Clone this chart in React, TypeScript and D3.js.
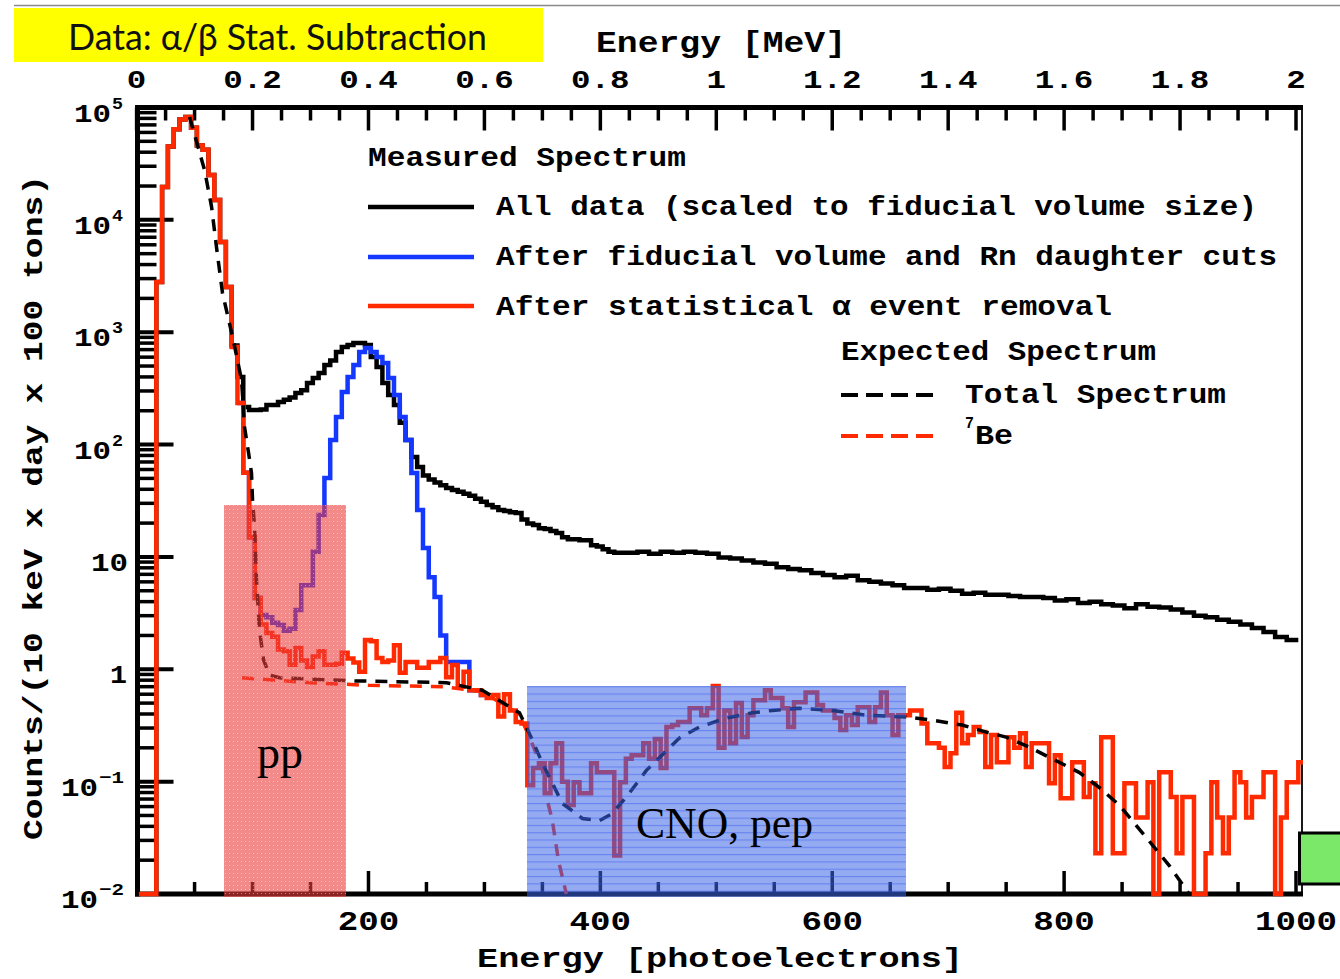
import React from "react";
import * as d3 from "d3";

// ---------------- data ----------------
// histogram bin width (photoelectrons)
const binWidth = 5;

// After statistical alpha event removal (red), 5 pe bins starting at redStartPe
const redStartPe = 2;
const redValues = [
  0.005, 0.005, 0.005,
  2800, 19600, 45000, 64000, 78000, 82300, 66000, 46000, 42000, 25100, // 17..62
  15000, 6350, 2520, 739, 234, 56, 15, 4.3, 2.5, 2.1, // 67..112
  1.95, 1.5, 1.45, 1.1, 1.55, 1.2, 1.05, 1.3, 1.45, 1.1, // 117..162
  1.1, 1.12, 1.4, 1.25, 1.15, 0.95, 1.82, 1.78, 1.26, 1.16, // 167..212
  1.2, 1.64, 0.93, 1.16, 1.16, 1.03, 1.03, 1.16, 1.16, 1.26, // 217..262
  0.85, 1.09, 0.7, 0.95, 0.65, 0.65, 0.59, 0.555, 0.59, 0.38, // 267..312
  0.6, 0.43, 0.34, 0.33, 0.093, 0.132, 0.146, 0.079, 0.146, 0.22, // 317..362
  0.1, 0.062, 0.099, 0.079, 0.079, 0.146, 0.121, 0.121, 0.121, 0.022, // 367..412
  0.099, 0.16, 0.172, 0.172, 0.22, 0.16, 0.24, 0.132, 0.306, 0.32, // 417..462
  0.34, 0.34, 0.45, 0.45, 0.39, 0.45, 0.71, 0.2, 0.43, 0.22, // 467..512
  0.5, 0.25, 0.39, 0.53, 0.53, 0.65, 0.555, 0.555, 0.45, 0.306, // 517..562
  0.51, 0.51, 0.62, 0.62, 0.48, 0.43, 0.43, 0.368, 0.288, 0.39, // 567..612
  0.32, 0.46, 0.46, 0.34, 0.46, 0.62, 0.39, 0.26, 0.39, 0.39, // 617..662
  0.43, 0.43, 0.33, 0.22, 0.22, 0.2, 0.135, 0.179, 0.41, 0.22, // 667..712
  0.26, 0.306, 0.276, 0.135, 0.26, 0.149, 0.149, 0.249, 0.2, 0.27, // 717..762
  0.135, 0.22, 0.22, 0.22, 0.097, 0.172, 0.071, 0.071, 0.149, 0.149, // 767..812
  0.073, 0.097, 0.023, 0.249, 0.249, 0.023, 0.023, 0.097, 0.097, 0.048, // 817..862
  0.048, 0.099, 0.005, 0.121, 0.121, 0.073, 0.023, 0.073, 0.073, 0.005, // 867..912
  0.005, 0.023, 0.099, 0.048, 0.023, 0.048, 0.121, 0.099, 0.048, 0.073, // 917..962
  0.073, 0.121, 0.121, 0.005, 0.048, 0.099, 0.099, 0.149, // 967..1002
];

// All data (black): 5 pe bins from 17 to 411, then 10 pe bins from 412
const blackFineStartPe = 17;
const blackFineValues = [
  2800, 19600, 45000, 64000, 78000, 82300, 66000, 46000, 42000, 25100, // 17..62
  15000, 6350, 2520, 760, 399, 216, 203, 203, 205, 225, // 67..112
  225, 239, 250, 262, 288, 305, 353, 391, 434, 511, // 117..162
  560, 667, 739, 769, 802, 802, 769, 601, 490, 353, // 167..212
  276, 225, 156, 110, 77.5, 63, 53, 49, 46, 43.5, // 217..262
  41, 39.4, 38, 36.5, 35, 33, 31, 29, 27.7, 26.1, // 267..312
  25.6, 25, 24.6, 21.5, 19.8, 19.2, 18, 17.7, 17, 16.3, // 317..362
  15, 14.4, 14.4, 14.1, 14.1, 12.7, 12.4, 11.7, 11.1, // 367..407
];
const blackCoarseStartPe = 412;
const blackCoarseWidth = 10;
const blackCoarseValues = [
  10.9, 10.9, 11.1, 10.7, 11.1, 10.9, 11.1, 10.9, 10.7, 9.9, // 412..502
  9.7, 9.3, 8.9, 8.7, 8.1, 7.8, 7.6, 7.2, 6.9, 6.6, // 512..602
  6.8, 6.2, 6.0, 5.8, 5.6, 5.3, 5.3, 5.1, 5.2, 5.0, // 612..702
  4.7, 4.8, 4.6, 4.6, 4.5, 4.4, 4.4, 4.3, 4.1, 4.2, // 712..802
  3.9, 4.0, 3.8, 3.7, 3.5, 3.8, 3.6, 3.55, 3.4, 3.2, // 812..902
  3.0, 2.9, 2.76, 2.65, 2.5, 2.33, 2.15, 1.94, 1.82, // 912..992
];

// After fiducial volume and Rn daughter cuts (blue), 5 pe bins
const blueStartPe = 87;
const blueValues = [
  234, 56, 15, 4.3, 3.04, 2.9, 2.6, 2.48, 2.2, 2.3, // 87..132
  3.37, 5.6, 5.6, 11.1, 23.6, 50.4, 110, 176, 294, 399, // 137..182
  511, 667, 724, 667, 601, 532, 391, 276, 176, 110, // 187..232
  55.8, 26.1, 12, 6.6, 4.4, 2.0, 1.16, 1.16, 1.16, 1.16, // 237..282
  0.65, 0.65, 0.59, // 287..297
];

// Expected total spectrum (black dashed)
const totalPe = [45.7, 58.6, 64.7, 69, 74.1, 83.6, 90.5, 93.1, 96.6, 99.1, 100, 101.7, 103.4, 104.3, 106, 109.5, 114.7, 123.3, 183.6, 267.2, 298.3, 330.2, 341.4, 350, 367.2, 384.5, 399.1, 410.3, 425, 439.7, 468.1, 485.3, 508.6, 531, 548.3, 571.6, 600, 629.3, 663.8, 686.2, 712, 732.8, 750, 769.8, 812.9, 830.2, 847.4, 870.7, 890.5, 907.8];
const totalValues = [82300, 27800, 13000, 5620, 2230, 835, 376, 143, 84, 55.8, 32.1, 18.5, 6.2, 4.4, 2.24, 1.21, 0.89, 0.84, 0.79, 0.76, 0.65, 0.41, 0.234, 0.146, 0.064, 0.047, 0.045, 0.052, 0.079, 0.126, 0.244, 0.306, 0.368, 0.41, 0.43, 0.45, 0.43, 0.39, 0.376, 0.353, 0.319, 0.276, 0.249, 0.203, 0.121, 0.089, 0.062, 0.032, 0.018, 0.0088];

// Expected 7Be spectrum (red dashed)
const be7Pe = [91, 150, 200, 265, 298, 330, 341, 350, 352.6, 358.6, 363.8, 370.7];
const be7Values = [0.84, 0.76, 0.72, 0.7, 0.63, 0.4, 0.22, 0.13, 0.08, 0.045, 0.02, 0.01];

// axes
const mevMajorTicks = [0, 0.2, 0.4, 0.6, 0.8, 1, 1.2, 1.4, 1.6, 1.8, 2];
const mevTickLabels = ["0", "0.2", "0.4", "0.6", "0.8", "1", "1.2", "1.4", "1.6", "1.8", "2"];
const peMajorTicks = [200, 400, 600, 800, 1000];
const peTickLabels = ["200", "400", "600", "800", "1000"];
const decadeExponents = [-2, -1, 0, 1, 2, 3, 4, 5];

const legendMeasuredTitle = "Measured Spectrum";
const legendMeasuredLabels = [
  "All data (scaled to fiducial volume size)",
  "After fiducial volume and Rn daughter cuts",
  "After statistical α event removal",
];
const legendExpectedTitle = "Expected Spectrum";
const legendExpectedLabels = ["Total Spectrum", "Be"];

// ---------------- drawing ----------------
const MONO = "'Liberation Mono', 'DejaVu Sans Mono', monospace";
const SERIF = "'Liberation Serif', 'DejaVu Serif', serif";
const RED = "#ff2a00";
const BLUE = "#1438ff";

const x = d3.scaleLinear().domain([0, 1000]).range([136.6, 1296]);
const mev = d3.scaleLinear().domain([0, 2]).range([136.6, 1296]);
const y = d3.scaleLog().domain([0.01, 1e5]).range([894, 107.5]).clamp(true);

type Bin = { a: number; b: number; v: number };
function makeBins(start: number, width: number, values: number[]): Bin[] {
  return values.map((v, i) => ({ a: start + i * width, b: start + (i + 1) * width, v }));
}
function stepPath(bins: Bin[], fromBottom: boolean): string {
  const y0 = fromBottom ? y.range()[0] : y(bins[0].v);
  let d = `M${x(bins[0].a)},${y0}`;
  bins.forEach((bn) => {
    d += `V${y(bn.v)}H${x(bn.b)}`;
  });
  return d;
}

const redBins = makeBins(redStartPe, binWidth, redValues);
const blackBins = [
  ...makeBins(blackFineStartPe, binWidth, blackFineValues),
  ...makeBins(blackCoarseStartPe, blackCoarseWidth, blackCoarseValues),
];
const blueBins = makeBins(blueStartPe, binWidth, blueValues);

const curve = d3
  .line<[number, number]>()
  .x((d) => x(d[0]))
  .y((d) => y(d[1]));
const totalPath = curve(totalPe.map((p, i) => [p, totalValues[i]] as [number, number])) || "";
const be7Path = curve(be7Pe.map((p, i) => [p, be7Values[i]] as [number, number])) || "";

const mevMinor = d3.range(0, 2.0001, 0.05).filter((v) => Math.abs(v / 0.2 - Math.round(v / 0.2)) > 1e-6);
const peMinor = d3.range(50, 1001, 50).filter((v) => v % 200 !== 0);
const logMinor: number[] = [];
decadeExponents.slice(0, -1).forEach((e) => {
  for (let k = 2; k <= 9; k++) logMinor.push(k * Math.pow(10, e));
});

const AXL = 137.5; // left axis x
const AXR = 1302; // right axis x
const AXT = 107.5;
const AXB = 894;

function YLabel({ e }: { e: number }) {
  const ty = y(Math.pow(10, e)) + 14;
  if (e === 0)
    return (
      <text x={127} y={ty} textAnchor="end" fontFamily={MONO} fontWeight="bold" fontSize={26} textLength={17} lengthAdjust="spacingAndGlyphs">
        1
      </text>
    );
  if (e === 1)
    return (
      <text x={128} y={ty} textAnchor="end" fontFamily={MONO} fontWeight="bold" fontSize={26} textLength={37} lengthAdjust="spacingAndGlyphs">
        10
      </text>
    );
  const neg = e < 0;
  const baseEnd = neg ? 98 : 111;
  const sup = neg ? `−${-e}` : `${e}`;
  return (
    <g>
      <text x={baseEnd} y={ty} textAnchor="end" fontFamily={MONO} fontWeight="bold" fontSize={26} textLength={37} lengthAdjust="spacingAndGlyphs">
        10
      </text>
      <text x={baseEnd + 1} y={ty - 13} fontFamily={MONO} fontWeight="bold" fontSize={17} textLength={neg ? 25 : 11} lengthAdjust="spacingAndGlyphs">
        {sup}
      </text>
    </g>
  );
}

export default function App() {
  return (
    <svg width={1340} height={979} style={{ position: "absolute", left: 0, top: 0, background: "#fff" }}>
      <defs>
        <clipPath id="plotClip">
          <rect x={134} y={100} width={AXR - 134 + 1} height={AXB - 100 + 3} />
        </clipPath>
        <pattern id="hlines" width={10} height={7.3} patternUnits="userSpaceOnUse">
          <line x1={0} x2={10} y1={0.6} y2={0.6} stroke="#2f55f0" strokeWidth={1} opacity={0.5} />
        </pattern>
        <pattern id="dots" width={4} height={4} patternUnits="userSpaceOnUse">
          <rect x={1} y={1} width={1} height={1} fill="#fff" opacity={0.45} />
        </pattern>
      </defs>

      {/* slide border line */}
      <line x1={14} x2={1340} y1={5.5} y2={5.5} stroke="#8a8a8a" strokeWidth={1.5} />

      {/* title box */}
      <rect x={14} y={8} width={529} height={54} fill="#ffff00" />
      <text x={68} y={50} fontFamily="Lato, 'Open Sans', sans-serif" fontSize={37} textLength={419} lengthAdjust="spacingAndGlyphs" fill="#111">
        Data: α/β Stat. Subtraction
      </text>

      {/* top axis title and labels */}
      <text x={596} y={52} fontFamily={MONO} fontWeight="bold" fontSize={30} textLength={250} lengthAdjust="spacingAndGlyphs">
        Energy [MeV]
      </text>
      {mevMajorTicks.map((t, i) => (
        <text key={"ml" + i} x={mev(t)} y={88} textAnchor="middle" fontFamily={MONO} fontWeight="bold" fontSize={26} textLength={mevTickLabels[i].length * 19.5} lengthAdjust="spacingAndGlyphs">
          {mevTickLabels[i]}
        </text>
      ))}

      {/* axes frame */}
      <line x1={AXR} x2={AXR} y1={AXT} y2={AXB} stroke="#000" strokeWidth={1.8} />
      <line x1={AXL - 2.5} x2={AXR + 1} y1={AXT} y2={AXT} stroke="#000" strokeWidth={5} />
      <line x1={AXL - 2.5} x2={AXR + 1} y1={AXB} y2={AXB} stroke="#000" strokeWidth={5} />
      <line x1={AXL} x2={AXL} y1={AXT - 2.5} y2={AXB + 2.5} stroke="#000" strokeWidth={5} />

      {/* top ticks */}
      {mevMajorTicks.map((t, i) => (
        <line key={"mt" + i} x1={mev(t)} x2={mev(t)} y1={AXT} y2={AXT + 23} stroke="#000" strokeWidth={3.5} />
      ))}
      {mevMinor.map((t, i) => (
        <line key={"mm" + i} x1={mev(t)} x2={mev(t)} y1={AXT} y2={AXT + 13} stroke="#000" strokeWidth={3.5} />
      ))}
      {/* bottom ticks */}
      {peMajorTicks.map((t, i) => (
        <line key={"pt" + i} x1={x(t)} x2={x(t)} y1={AXB} y2={AXB - 23} stroke="#000" strokeWidth={3.5} />
      ))}
      {peMinor.map((t, i) => (
        <line key={"pm" + i} x1={x(t)} x2={x(t)} y1={AXB} y2={AXB - 12} stroke="#000" strokeWidth={3.5} />
      ))}
      {/* left ticks */}
      {decadeExponents.map((e) => (
        <line key={"dt" + e} x1={AXL} x2={AXL + 36} y1={y(Math.pow(10, e))} y2={y(Math.pow(10, e))} stroke="#000" strokeWidth={4} />
      ))}
      {logMinor.map((v, i) => (
        <line key={"lm" + i} x1={AXL} x2={AXL + 19} y1={y(v)} y2={y(v)} stroke="#000" strokeWidth={3.5} />
      ))}

      {/* y labels */}
      {decadeExponents.map((e) => (
        <YLabel key={"yl" + e} e={e} />
      ))}
      <text
        transform="translate(42,507.5) rotate(-90)"
        textAnchor="middle"
        fontFamily={MONO}
        fontWeight="bold"
        fontSize={28}
        textLength={665}
        lengthAdjust="spacingAndGlyphs"
      >
        Counts/(10 keV x day x 100 tons)
      </text>

      {/* bottom labels */}
      {peMajorTicks.map((t, i) => (
        <text key={"bl" + i} x={x(t)} y={930} textAnchor="middle" fontFamily={MONO} fontWeight="bold" fontSize={28} textLength={peTickLabels[i].length * 20.5} lengthAdjust="spacingAndGlyphs">
          {peTickLabels[i]}
        </text>
      ))}
      <text x={477} y={967} fontFamily={MONO} fontWeight="bold" fontSize={28} textLength={486} lengthAdjust="spacingAndGlyphs">
        Energy [photoelectrons]
      </text>

      {/* data */}
      <g clipPath="url(#plotClip)" fill="none" strokeLinejoin="miter">
        <path d={stepPath(blackBins, true)} stroke="#000" strokeWidth={4.5} />
        <path d={stepPath(blueBins, false)} stroke={BLUE} strokeWidth={4.5} />
        <path d={stepPath(redBins, true)} stroke={RED} strokeWidth={4.5} />
        <path d={be7Path} stroke={RED} strokeWidth={3.5} strokeDasharray="12 9" />
        <path d={totalPath} stroke="#000" strokeWidth={3.5} strokeDasharray="12 9" />
      </g>

      {/* legend */}
      <g fontFamily={MONO} fontWeight="bold" fontSize={27}>
        <text x={368} y={166} textLength={318} lengthAdjust="spacingAndGlyphs">
          {legendMeasuredTitle}
        </text>
        <line x1={368} x2={474} y1={207} y2={207} stroke="#000" strokeWidth={4.5} />
        <text x={496} y={215} textLength={761} lengthAdjust="spacingAndGlyphs">
          {legendMeasuredLabels[0]}
        </text>
        <line x1={368} x2={474} y1={257} y2={257} stroke={BLUE} strokeWidth={4.5} />
        <text x={496} y={265} textLength={781} lengthAdjust="spacingAndGlyphs">
          {legendMeasuredLabels[1]}
        </text>
        <line x1={368} x2={474} y1={306} y2={306} stroke={RED} strokeWidth={4.5} />
        <text x={496} y={315} textLength={616} lengthAdjust="spacingAndGlyphs">
          {legendMeasuredLabels[2]}
        </text>
        <text x={841} y={360} textLength={315} lengthAdjust="spacingAndGlyphs">
          {legendExpectedTitle}
        </text>
        <line x1={841} x2={933} y1={395} y2={395} stroke="#000" strokeWidth={4} strokeDasharray="17 8" />
        <text x={965} y={403} textLength={261} lengthAdjust="spacingAndGlyphs">
          {legendExpectedLabels[0]}
        </text>
        <line x1={841} x2={933} y1={436} y2={436} stroke={RED} strokeWidth={4} strokeDasharray="17 8" />
        <text x={965} y={428} fontSize={17} textLength={9} lengthAdjust="spacingAndGlyphs">
          7
        </text>
        <text x={975} y={444} textLength={38} lengthAdjust="spacingAndGlyphs">
          {legendExpectedLabels[1]}
        </text>
      </g>

      {/* highlight boxes */}
      <rect x={224} y={505} width={122} height={392} fill="rgb(235,60,60)" opacity={0.6} />
      <rect x={224} y={505} width={122} height={392} fill="url(#dots)" />
      <rect x={527} y={686} width={379} height={211} fill="rgb(60,100,230)" opacity={0.55} />
      <rect x={527} y={686} width={379} height={211} fill="url(#hlines)" />
      <text x={257} y={768} fontFamily={SERIF} fontSize={46} fill="#000">
        pp
      </text>
      <text x={636} y={838} fontFamily={SERIF} fontSize={44} textLength={177} lengthAdjust="spacingAndGlyphs" fill="#000">
        CNO, pep
      </text>

      {/* green box at right edge */}
      <rect x={1299.5} y={833} width={45} height={51} fill="#7be86a" stroke="#000" strokeWidth={3} />
    </svg>
  );
}
